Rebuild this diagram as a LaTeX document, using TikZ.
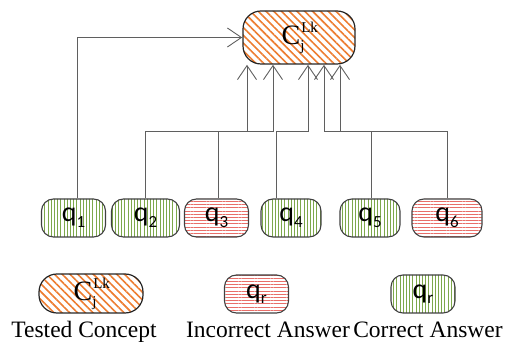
\documentclass[tikz,border=0pt]{standalone}
\usepackage{fontspec}
\setmainfont{Liberation Serif}
\newfontfamily\qfont{Carlito}
\newfontfamily\cfont{Liberation Serif}
\usetikzlibrary{arrows.meta,patterns.meta}

\definecolor{conceptorange}{RGB}{237,125,49}
\definecolor{rightgreen}{RGB}{125,168,75}
\definecolor{wrongred}{RGB}{232,110,105}
\definecolor{linkgray}{RGB}{95,95,95}

% Labels inside the boxes
\newcommand{\conceptlabel}{{\cfont\fontsize{28}{28}\selectfont C\kern1pt\makebox[0pt][l]{\raisebox{12.5pt}{\fontsize{15}{15}\selectfont Lk}}\kern-1pt\raisebox{-5.5pt}{\fontsize{15}{15}\selectfont j}\kern12pt}}
\newcommand{\qlabel}[1]{{\qfont\fontsize{28}{28}\selectfont q\raisebox{-0.2em}{\fontsize{17}{17}\selectfont #1}}}

\begin{document}
\begin{tikzpicture}[x=1pt, y=-1pt,
  conceptbox/.style={draw=black!85, line width=1.2pt, rounded corners=18pt, inner sep=0pt,
    pattern={Lines[angle=-45,distance=5.5pt,line width=1.6pt]}, pattern color=conceptorange},
  correctbox/.style={draw=black!75, line width=1.1pt, rounded corners=12pt, inner sep=0pt,
    minimum width=64pt, minimum height=38pt,
    pattern={Lines[angle=90,distance=3.2pt,line width=1pt]}, pattern color=rightgreen},
  wrongbox/.style={draw=black!75, line width=1.1pt, rounded corners=12pt, inner sep=0pt,
    minimum width=64pt, minimum height=38pt,
    pattern={Lines[angle=0,distance=3.2pt,line width=1pt]}, pattern color=wrongred},
  link/.style={draw=linkgray, line width=0.9pt},
  linkarrow/.style={link, -{Straight Barb[length=14pt,width=19pt,line width=0.9pt]}},
  legendtext/.style={font=\fontsize{23.5}{25}\selectfont, anchor=base}
]

\useasboundingbox (0,0) rectangle (514,352);

% Tested concept
\node[conceptbox, minimum width=112pt, minimum height=53pt] (C) at (299,37.5) {\conceptlabel};

% Questions
\node[correctbox] (q1) at (73.5,218) {\qlabel{1}};
\node[correctbox, minimum width=68pt] (q2) at (145.5,218) {\qlabel{2}};
\node[wrongbox] (q3) at (216.5,218) {\qlabel{3}};
\node[correctbox, minimum width=60pt] (q4) at (291,218) {\qlabel{4}};
\node[correctbox, minimum width=60pt] (q5) at (370,218) {\qlabel{5}};
\node[wrongbox, minimum width=70pt] (q6) at (447,218) {\qlabel{6}};

% Height of the horizontal runs
\coordinate (bus) at (0,131);

% Entry points under the concept
\coordinate (in2) at ([xshift=-52pt]C.south);
\coordinate (in3) at ([xshift=-26pt]C.south);
\coordinate (in4) at ([xshift=9pt]C.south);
\coordinate (in6) at ([xshift=25pt]C.south);
\coordinate (in5) at ([xshift=41pt]C.south);

% Links from questions to the concept
\draw[linkarrow] ([xshift=3.5pt]q1.north) |- (C.west);
\draw[linkarrow] (q2.north) |- (in2 |- bus) -- (in2);
\draw[linkarrow] ([xshift=1.5pt]q3.north) |- (in3 |- bus) -- (in3);
\draw[linkarrow] ([xshift=-15pt]q4.north) |- (in4 |- bus) -- (in4);
\draw[linkarrow] ([xshift=1pt]q5.north) |- (in5 |- bus) -- (in5);
\draw[linkarrow] (q6.north) |- (in6 |- bus) -- (in6);

% Legend
\node[conceptbox, minimum width=104pt, minimum height=39pt] (legC) at (91,293.5) {\conceptlabel};
\node[wrongbox] (legwrong) at (256.5,294) {\qlabel{r}};
\node[correctbox] (legright) at (423,294) {\qlabel{r}};

\node[legendtext] (tested) at (84,338) {Tested Concept};
\node[legendtext] (incorrect) at (268,338) {Incorrect Answer};
\node[legendtext] (correct) at (428,338) {Correct Answer};

\end{tikzpicture}
\end{document}
